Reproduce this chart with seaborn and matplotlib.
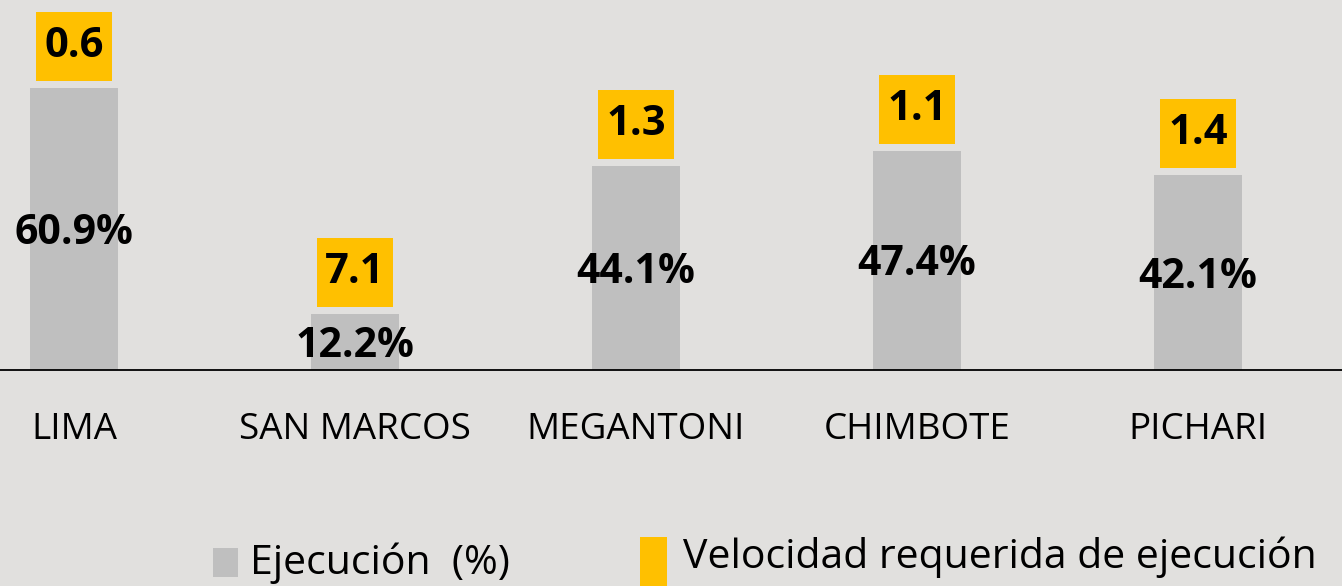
import pandas as pd
import seaborn as sns
import matplotlib.pyplot as plt
from matplotlib.patches import Rectangle

# Data
distritos = ['LIMA', 'SAN MARCOS', 'MEGANTONI', 'CHIMBOTE', 'PICHARI']
ejecucion = [60.9, 12.2, 44.1, 47.4, 42.1]
velocidad = [0.6, 7.1, 1.3, 1.1, 1.4]

bg = '#e1e0de'
gris = '#bfbfbf'
amarillo = '#ffc000'

sns.set_style('white')
plt.rcParams['font.family'] = ['Open Sans', 'DejaVu Sans']

df = pd.DataFrame({'distrito': distritos, 'ejecucion': ejecucion})

fig = plt.figure(figsize=(13.42, 5.86), dpi=100, facecolor=bg)
ax = fig.add_axes([0, (586 - 370) / 586, 1, 370 / 586])
ax.set_facecolor(bg)

sns.barplot(data=df, x='distrito', y='ejecucion', color=gris, saturation=1,
            width=0.313, linewidth=0, edgecolor='none', ax=ax)

px_unit = 370 / 79.9
ax.set_ylim(0, 79.9)
ax.set_xlim(-74 / 281, (1342 - 74) / 281)

for i, (e, v) in enumerate(zip(ejecucion, velocidad)):
    ax.text(i, e / 2 - 1, f'{e:.1f}%', ha='center', va='center',
            fontsize=29.5, fontweight='bold', color='black')
    bw = 76 / 281
    bh = 69 / px_unit
    y0 = e + 7 / px_unit
    ax.add_patch(Rectangle((i - bw / 2, y0), bw, bh, facecolor=amarillo,
                           edgecolor='none', clip_on=False))
    ax.text(i, y0 + bh / 2, f'{v:.1f}', ha='center', va='center',
            fontsize=30, fontweight='bold', color='black')

ax.axhline(0, color='black', lw=1.3, clip_on=False)
ax.set_xlabel('')
ax.set_ylabel('')
ax.set_yticks([])
ax.tick_params(axis='x', length=0, pad=30, labelsize=26.5, labelcolor='black')
for s in ax.spines.values():
    s.set_visible(False)

# legend
fig.patches.append(Rectangle((213 / 1342, 1 - 577 / 586), 25 / 1342, 29 / 586,
                             transform=fig.transFigure, facecolor=gris,
                             edgecolor='none'))
fig.text(250 / 1342, 1 - 563 / 586, 'Ejecución  (%)', fontsize=29.5,
         va='center', ha='left', color='black')
fig.patches.append(Rectangle((640 / 1342, 0), 27 / 1342, 49 / 586,
                             transform=fig.transFigure, facecolor=amarillo,
                             edgecolor='none'))
fig.text(683 / 1342, 1 - 557 / 586, 'Velocidad requerida de ejecución',
         fontsize=29.5, va='center', ha='left', color='black')

fig.savefig('out.png', dpi=100, facecolor=bg)
